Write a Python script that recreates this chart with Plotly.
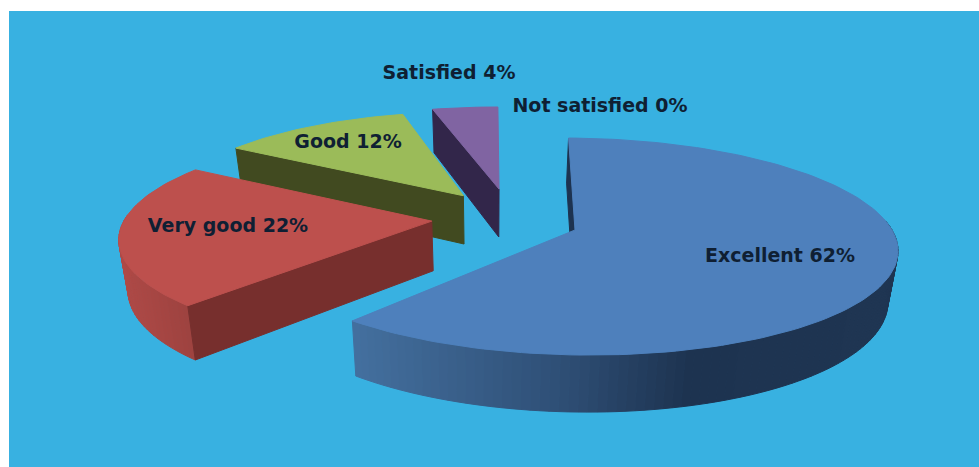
import math
import plotly.graph_objects as go

categories = ["Excellent", "Very good", "Good", "Satisfied", "Not satisfied"]
percent = [62, 22, 12, 4, 0]
top_colors = ["#4e80bc", "#bd504d", "#9bbb59", "#8064a2", "#4bacc6"]
cut_colors = ["#1d3350", "#772f2d", "#414a20", "#32264a", "#2a6a7a"]

# exploded slice origins in pie space (x pixels, depth units)
origin_x = [575, 431, 462, 499.6, 499.6]
origin_depth = [0.0, 0.085, 0.34, 0.41, 0.41]
radius_x = [317, 312, 308, 318, 318]
edge_trim_start = [1.0, 0, 0, 0, 0]
edge_trim_end = [-2.5, 0, 0, 0, 0]
label_x = [780, 228, 348, 449, 600]
label_y = [257, 227, 143, 74, 107]

VX, VY, RY, PERSP = 490, 230, 106, 0.1525
BG = "#38b1e1"


def project(wx, depth):
    s = 1 / (1 + PERSP * depth)
    return VX + (wx - VX) * s, VY - RY * depth * s


def lower(p):
    return VX + (p[0] - VX) * 0.975, 1.055 * p[1] + 37.5


def rim(i, a_deg):
    a = math.radians(a_deg)
    return project(origin_x[i] + radius_x[i] * math.sin(a), origin_depth[i] + math.cos(a))


def mix(c1, c2, t):
    a = [int(c1[k:k + 2], 16) for k in (1, 3, 5)]
    b = [int(c2[k:k + 2], 16) for k in (1, 3, 5)]
    return "#%02x%02x%02x" % tuple(round(u + (v - u) * t) for u, v in zip(a, b))


fig = go.Figure()


def poly(points, color):
    xs = [p[0] for p in points] + [points[0][0]]
    ys = [p[1] for p in points] + [points[0][1]]
    fig.add_trace(go.Scatter(x=xs, y=ys, mode="lines", fill="toself", fillcolor=color,
                             line=dict(color=color, width=1), hoverinfo="skip", showlegend=False))


def wall_color(i, x):
    if i == 0:
        stops = [(350, "#44709f"), (560, "#2f4f76"), (690, "#1d3350"), (900, "#1f3552")]
    else:
        stops = [(115, "#b04a47"), (190, "#9d423f")]
    if x <= stops[0][0]:
        return stops[0][1]
    for (x0, c0), (x1, c1) in zip(stops, stops[1:]):
        if x <= x1:
            return mix(c0, c1, (x - x0) / (x1 - x0))
    return stops[-1][1]


starts, acc = [], 0.0
for v in percent:
    starts.append(acc)
    acc += v * 3.6

for i in [3, 2, 1, 0]:
    a0 = starts[i] + edge_trim_start[i]
    a1 = starts[i] + percent[i] * 3.6 + edge_trim_end[i]
    n = max(4, int((a1 - a0) / 1.5))
    angles = [a0 + (a1 - a0) * k / n for k in range(n + 1)]
    arc = [rim(i, a) for a in angles]
    apex = project(origin_x[i], origin_depth[i])
    # curved outer wall, only on the camera side
    if i in (0, 1):
        for p, q, a in zip(arc, arc[1:], angles):
            if 85 < a < 272:
                poly([p, q, lower(q), lower(p)], wall_color(i, (p[0] + q[0]) / 2))
    # flat cut face
    poly([arc[0], apex, lower(apex), lower(arc[0])], cut_colors[i])
    poly([apex] + arc, top_colors[i])

fig.add_trace(go.Scatter(
    x=label_x, y=label_y, mode="text",
    text=[f"{c} {v}%" for c, v in zip(categories, percent)],
    textposition="middle center",
    textfont=dict(family="DejaVu Sans", size=19, color="#0f1f33", weight="bold"),
    hoverinfo="skip", showlegend=False))

fig.update_layout(
    width=979, height=467, autosize=False,
    margin=dict(l=9, r=0, t=11, b=0, pad=0),
    paper_bgcolor="#ffffff", plot_bgcolor=BG, showlegend=False,
    xaxis=dict(range=[9, 979], visible=False, fixedrange=True),
    yaxis=dict(range=[467, 11], visible=False, fixedrange=True),
)
fig.write_html("out.html", config={"displayModeBar": False},
               post_script="document.body.style.margin='0';document.documentElement.style.overflow='hidden';")
